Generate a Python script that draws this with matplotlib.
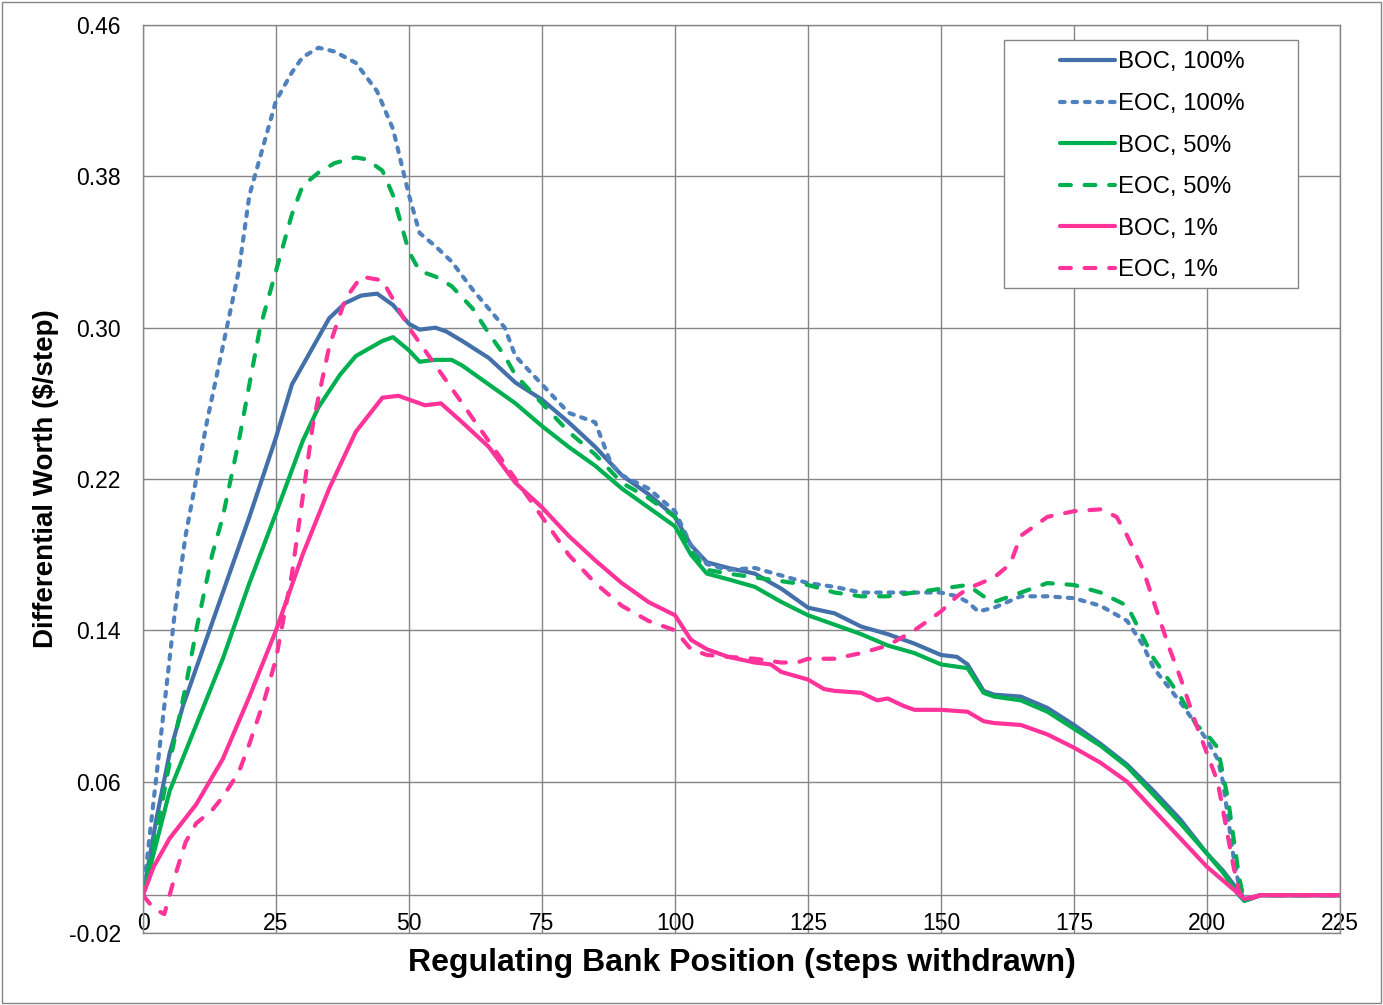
import matplotlib.pyplot as plt
import matplotlib.patches as patches

boc100_x = [0, 2.5, 5, 7.5, 10, 15, 20, 25, 28, 32, 35, 38, 41, 44, 47, 50, 52, 55, 57, 60, 65, 70, 75, 80, 85, 90, 95, 100,
            103, 106, 110, 115, 120, 125, 130, 135, 140, 145, 150, 153, 155, 158, 160, 165, 170, 175, 180, 185, 190, 195,
            200, 203, 206, 207, 208, 210, 225]
boc100_y = [0.0, 0.04, 0.075, 0.10, 0.12, 0.16, 0.20, 0.242, 0.27, 0.29, 0.305, 0.313, 0.317, 0.318, 0.312, 0.302, 0.299,
            0.300, 0.298, 0.293, 0.284, 0.271, 0.262, 0.250, 0.237, 0.222, 0.212, 0.200,
            0.185, 0.176, 0.173, 0.170, 0.162, 0.152, 0.149, 0.142, 0.138, 0.133, 0.127, 0.126, 0.122, 0.108, 0.106, 0.105,
            0.099, 0.090, 0.080, 0.069, 0.055, 0.040, 0.022, 0.013, 0.002, -0.002, -0.002, 0.0, 0.0]

eoc100_x = [0, 2, 4, 6, 8, 10, 12, 15, 18, 20, 22, 25, 28, 30, 33, 36, 40, 44, 47, 50, 52, 55, 58, 62, 65, 68, 70, 75, 80,
            85, 88, 90, 95, 100, 103, 106, 110, 115, 120, 125, 130, 135, 140, 145, 150, 153, 155, 157, 160, 165, 170, 175,
            180, 185, 188, 190, 195, 198, 200, 202, 203, 204, 205, 206, 207, 210, 225]
eoc100_y = [0.0, 0.05, 0.10, 0.15, 0.19, 0.22, 0.25, 0.29, 0.33, 0.37, 0.39, 0.42, 0.435, 0.443, 0.448, 0.446, 0.44, 0.425,
            0.405, 0.37, 0.35, 0.343, 0.335, 0.32, 0.31, 0.30, 0.285, 0.27, 0.255, 0.25, 0.228, 0.222, 0.215, 0.203,
            0.185, 0.175, 0.172, 0.173, 0.169, 0.165, 0.163, 0.160, 0.160, 0.160, 0.160, 0.158, 0.155, 0.150, 0.152,
            0.158, 0.158, 0.157, 0.153, 0.145, 0.132, 0.120, 0.102, 0.090, 0.082, 0.072, 0.060, 0.040, 0.020, 0.005,
            -0.003, 0.0, 0.0]

boc50_x = [0, 5, 10, 15, 20, 25, 30, 33, 37, 40, 45, 47, 50, 52, 55, 58, 60, 65, 70, 75, 80, 85, 90, 95, 100, 103, 106, 110,
           115, 120, 125, 130, 135, 140, 145, 150, 155, 158, 160, 165, 170, 175, 180, 185, 190, 195, 200, 203, 206, 207,
           210, 225]
boc50_y = [0.0, 0.055, 0.09, 0.125, 0.165, 0.202, 0.24, 0.258, 0.275, 0.285, 0.293, 0.295, 0.288, 0.282, 0.283, 0.283,
           0.280, 0.270, 0.260, 0.248, 0.237, 0.227, 0.215, 0.205, 0.195, 0.180, 0.170, 0.167, 0.163, 0.155, 0.148,
           0.143, 0.138, 0.132, 0.128, 0.122, 0.120, 0.107, 0.105, 0.103, 0.097, 0.088, 0.079, 0.068, 0.053, 0.038,
           0.022, 0.012, 0.0, -0.003, 0.0, 0.0]

eoc50_x = [0, 3, 5, 8, 10, 13, 15, 18, 20, 22, 25, 28, 30, 33, 36, 40, 42, 45, 47, 49, 50, 52, 55, 58, 62, 65, 68, 70, 75,
           80, 85, 90, 95, 100, 103, 106, 110, 115, 120, 125, 130, 135, 140, 145, 150, 155, 158, 160, 165, 170, 175, 180,
           185, 190, 195, 198, 200, 202, 204, 205, 206, 207, 210, 225]
eoc50_y = [0.0, 0.04, 0.07, 0.11, 0.14, 0.18, 0.20, 0.24, 0.27, 0.30, 0.33, 0.36, 0.375, 0.382, 0.387, 0.39, 0.389,
           0.383, 0.37, 0.35, 0.34, 0.33, 0.327, 0.322, 0.31, 0.297, 0.285, 0.275, 0.26, 0.245, 0.233, 0.218, 0.21,
           0.20, 0.182, 0.172, 0.170, 0.168, 0.166, 0.164, 0.160, 0.158, 0.158, 0.160, 0.162, 0.164, 0.158, 0.155,
           0.160, 0.165, 0.164, 0.160, 0.153, 0.125, 0.105, 0.090, 0.085, 0.078, 0.050, 0.030, 0.010, -0.003, 0.0, 0.0]

boc1_x = [0, 2, 5, 10, 15, 20, 25, 30, 35, 40, 45, 48, 50, 53, 56, 60, 65, 70, 75, 80, 85, 90, 95, 100, 103, 106, 110, 115,
          118, 120, 125, 128, 130, 135, 138, 140, 143, 145, 150, 155, 158, 160, 165, 170, 175, 180, 185, 190, 195, 200,
          205, 207, 210, 225]
boc1_y = [0.0, 0.015, 0.03, 0.048, 0.072, 0.105, 0.14, 0.18, 0.215, 0.245, 0.263, 0.264, 0.262, 0.259, 0.260, 0.250,
          0.237, 0.218, 0.205, 0.190, 0.177, 0.165, 0.155, 0.148, 0.135, 0.130, 0.126, 0.123, 0.122, 0.118, 0.114,
          0.109, 0.108, 0.107, 0.103, 0.104, 0.100, 0.098, 0.098, 0.097, 0.092, 0.091, 0.090, 0.085, 0.078, 0.070,
          0.060, 0.045, 0.030, 0.015, 0.003, -0.002, 0.0, 0.0]

eoc1_x = [0, 2, 4, 6, 8, 10, 13, 15, 18, 20, 23, 25, 28, 30, 32, 35, 38, 41, 45, 48, 50, 55, 60, 65, 70, 75, 80, 85, 90,
          95, 100, 103, 106, 110, 115, 120, 123, 125, 130, 135, 140, 145, 150, 153, 155, 160, 163, 165, 168, 170, 175,
          180, 183, 185, 188, 190, 193, 195, 198, 200, 202, 203, 204, 205, 206, 207, 210, 225]
eoc1_y = [0.0, -0.007, -0.010, 0.010, 0.028, 0.038, 0.045, 0.052, 0.065, 0.080, 0.105, 0.125, 0.17, 0.21, 0.25, 0.29,
          0.315, 0.327, 0.325, 0.31, 0.30, 0.28, 0.26, 0.24, 0.22, 0.20, 0.18, 0.165, 0.153, 0.145, 0.14, 0.13,
          0.127, 0.126, 0.125, 0.123, 0.123, 0.125, 0.125, 0.128, 0.132, 0.14, 0.15, 0.158, 0.162, 0.168, 0.175,
          0.19, 0.196, 0.20, 0.203, 0.204, 0.20, 0.19, 0.172, 0.155, 0.13, 0.115, 0.09, 0.075, 0.06, 0.045, 0.03,
          0.015, 0.002, -0.003, 0.0, 0.0]

y_ticks = [-0.02, 0.06, 0.14, 0.22, 0.30, 0.38, 0.46]
x_ticks = [0, 25, 50, 75, 100, 125, 150, 175, 200, 225]

plt.rcParams['font.family'] = ['Liberation Sans', 'DejaVu Sans']

fig = plt.figure(figsize=(13.83, 10.05), dpi=100)
ax = fig.add_axes([0.1034, 0.0716, 0.8655, 0.9035])

grid_color = '#868686'
lw = 3

ax.plot(boc100_x, boc100_y, color='#4470AA', lw=lw, solid_capstyle='round', solid_joinstyle='round', label='BOC, 100%')
ax.plot(eoc100_x, eoc100_y, color='#4F81BD', lw=lw, ls=(0, (1.1, 1.9)), dash_capstyle='round', label='EOC, 100%')
ax.plot(boc50_x, boc50_y, color='#00B050', lw=lw, solid_capstyle='round', solid_joinstyle='round', label='BOC, 50%')
ax.plot(eoc50_x, eoc50_y, color='#00B050', lw=lw, ls=(0, (2.6, 3.3)), dash_capstyle='round', label='EOC, 50%')
ax.plot(boc1_x, boc1_y, color='#FF3399', lw=lw, solid_capstyle='round', solid_joinstyle='round', label='BOC, 1%')
ax.plot(eoc1_x, eoc1_y, color='#FF3399', lw=lw, ls=(0, (2.6, 3.3)), dash_capstyle='round', label='EOC, 1%')

ax.set_xlim(0, 225)
ax.set_ylim(-0.02, 0.46)
ax.set_xticks(x_ticks)
ax.set_yticks(y_ticks)
ax.set_yticklabels(['%.2f' % v for v in y_ticks])
ax.grid(True, color=grid_color, lw=1.0, zorder=0)
ax.set_axisbelow(True)
ax.axhline(0, color=grid_color, lw=1.0, zorder=1)
for s in ax.spines.values():
    s.set_color(grid_color)
    s.set_linewidth(1.0)

ax.tick_params(axis='both', length=0, labelsize=16.5)
ax.tick_params(axis='x', pad=-15)
ax.tick_params(axis='y', pad=16)

ax.set_xlabel('Regulating Bank Position (steps withdrawn)', fontsize=23, fontweight='bold', labelpad=9)
ax.set_ylabel('Differential Worth ($/step)', fontsize=20, fontweight='bold', labelpad=7)

# legend box drawn by hand so the left margin matches the original
box = patches.Rectangle((0.7193, 0.7104), 0.2457, 0.2731, transform=ax.transAxes, facecolor='white',
                        edgecolor=grid_color, lw=1.0, zorder=4)
ax.add_patch(box)
leg = ax.legend(loc='upper left', bbox_to_anchor=(0.7494, 0.9935), frameon=False, fontsize=17.3,
                handlelength=2.25, handletextpad=0.15, labelspacing=0.815, borderpad=0.35)
leg.set_zorder(5)

# outer border of the chart area
fig.patches.append(patches.Rectangle((0.0015, 0.002), 0.997, 0.996, transform=fig.transFigure, fill=False,
                                     edgecolor=grid_color, lw=1.0))

fig.savefig('out.png', dpi=100)
